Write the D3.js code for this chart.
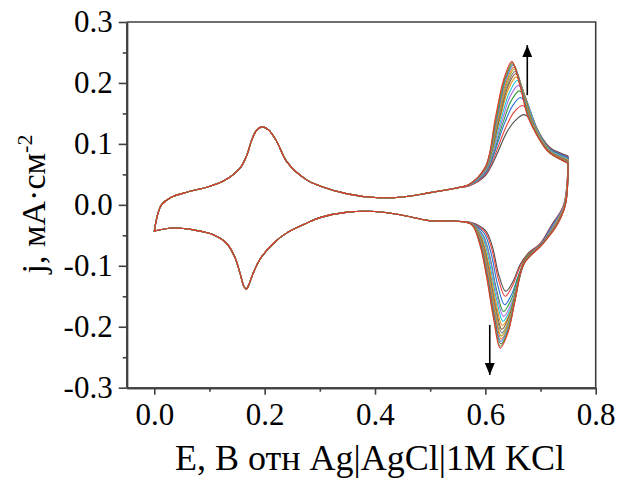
<!DOCTYPE html>
<html>
<head>
<meta charset="utf-8">
<script src="https://cdn.jsdelivr.net/npm/d3@7"></script>
<style>
  html, body { margin: 0; padding: 0; background: #fff; }
  svg text { font-family: "Liberation Serif", "Times New Roman", Times, "DejaVu Serif", serif; fill: #000; }
</style>
</head>
<body>
<svg id="chart" width="617" height="482"></svg>
<script>
// ticks
const xTicks = [0, 0.2, 0.4, 0.6, 0.8]
const xMinorTicks = [0.1, 0.3, 0.5, 0.7]
const yTicks = [-0.3, -0.2, -0.1, 0, 0.1, 0.2, 0.3]
const yMinorTicks = [-0.25, -0.15, -0.05, 0.05, 0.15, 0.25]

// colour of each cycle, first -> last
const cycleColors = ['#505050', '#e8403a', '#2a6fd6', '#2e9e3e', '#a66ee0', '#18c4d4', '#e8941a', '#8b5a2b',
    '#808080', '#a0a820', '#f07828', '#3c8ee6', '#6b6b6b', '#5aa832', '#e53530']

// part of the anodic sweep that all cycles share: [E, j]
const sharedAnodic = [[0.000, -0.044], [0.003, -0.028], [0.007, -0.013], [0.013, 0.000], [0.030, 0.012],
    [0.060, 0.021], [0.095, 0.029], [0.125, 0.039], [0.155, 0.060], [0.168, 0.082], [0.176, 0.105],
    [0.186, 0.123], [0.196, 0.128], [0.207, 0.123], [0.222, 0.104], [0.240, 0.071], [0.276, 0.041],
    [0.300, 0.031], [0.350, 0.018], [0.400, 0.012], [0.450, 0.013], [0.500, 0.020], [0.550, 0.028]]

// part of the cathodic sweep that all cycles share
const sharedCathodic = [[0.550, -0.027], [0.500, -0.026], [0.450, -0.017], [0.400, -0.011], [0.350, -0.012],
    [0.300, -0.021], [0.276, -0.030], [0.240, -0.046], [0.216, -0.063], [0.191, -0.090], [0.178, -0.115],
    [0.171, -0.132], [0.167, -0.138], [0.162, -0.133], [0.156, -0.114], [0.146, -0.086], [0.131, -0.063],
    [0.107, -0.049], [0.071, -0.041], [0.034, -0.038], [0.000, -0.043]]

// anodic peak region of each cycle
const anodicPeaks = [
    [[.57, .031], [.60, .048], [.640, .121], [.655, .139], [.670, .148], [.685, .137], [.700, .114], [.71, .101], [.72, .092], [.75, .080]],
    [[.57, .031], [.60, .050], [.637, .127], [.652, .152], [.667, .163], [.682, .148], [.697, .119], [.71, .100], [.72, .091], [.75, .079]],
    [[.57, .032], [.60, .052], [.634, .132], [.649, .162], [.664, .176], [.679, .157], [.694, .124], [.71, .099], [.72, .090], [.75, .078]],
    [[.57, .032], [.60, .054], [.632, .135], [.647, .171], [.662, .187], [.677, .165], [.692, .128], [.71, .098], [.72, .089], [.75, .076]],
    [[.57, .032], [.60, .055], [.630, .137], [.645, .178], [.660, .196], [.675, .171], [.690, .131], [.71, .097], [.72, .088], [.75, .075]],
    [[.57, .032], [.60, .057], [.628, .139], [.643, .183], [.658, .204], [.673, .176], [.688, .133], [.71, .096], [.72, .087], [.75, .074]],
    [[.57, .033], [.60, .058], [.626, .140], [.641, .188], [.656, .210], [.671, .180], [.686, .135], [.71, .095], [.72, .086], [.75, .073]],
    [[.57, .033], [.60, .059], [.625, .140], [.640, .192], [.655, .215], [.670, .183], [.685, .137], [.71, .094], [.72, .085], [.75, .072]],
    [[.57, .033], [.60, .060], [.624, .140], [.639, .194], [.654, .219], [.669, .185], [.684, .138], [.71, .094], [.72, .085], [.75, .071]],
    [[.57, .033], [.60, .060], [.623, .141], [.638, .197], [.653, .223], [.668, .187], [.683, .139], [.71, .093], [.72, .084], [.75, .070]],
    [[.57, .033], [.60, .061], [.622, .141], [.637, .199], [.652, .226], [.667, .189], [.682, .140], [.71, .093], [.72, .084], [.75, .070]],
    [[.57, .033], [.60, .061], [.621, .141], [.636, .202], [.651, .229], [.666, .191], [.681, .140], [.71, .092], [.72, .083], [.75, .069]],
    [[.57, .033], [.60, .062], [.620, .142], [.635, .203], [.650, .231], [.665, .192], [.680, .141], [.71, .092], [.72, .083], [.75, .069]],
    [[.57, .033], [.60, .062], [.619, .141], [.634, .204], [.649, .233], [.664, .193], [.679, .142], [.71, .091], [.72, .083], [.75, .068]],
    [[.57, .033], [.60, .062], [.618, .142], [.633, .205], [.648, .235], [.663, .195], [.678, .142], [.71, .091], [.72, .083], [.75, .068]]
]

// cathodic peak region of each cycle
const cathodicPeaks = [
    [[.75, .080], [.742, 0], [.720, -.033], [.699, -.064], [.679, -.078], [.663, -.098], [.651, -.124], [.637, -.142], [.625, -.117], [.612, -.066], [.600, -.042], [.575, -.029]],
    [[.75, .079], [.742, 0], [.721, -.033], [.699, -.064], [.678, -.080], [.662, -.103], [.650, -.131], [.636, -.150], [.624, -.123], [.611, -.070], [.599, -.044], [.575, -.030]],
    [[.75, .078], [.743, 0], [.722, -.033], [.700, -.064], [.677, -.083], [.661, -.113], [.649, -.144], [.635, -.164], [.623, -.134], [.610, -.078], [.598, -.047], [.575, -.030]],
    [[.75, .076], [.743, 0], [.724, -.033], [.701, -.064], [.675, -.085], [.659, -.120], [.647, -.155], [.633, -.175], [.621, -.142], [.608, -.084], [.596, -.050], [.575, -.030]],
    [[.75, .075], [.743, 0], [.724, -.033], [.701, -.064], [.675, -.087], [.659, -.126], [.647, -.162], [.633, -.183], [.621, -.148], [.608, -.088], [.596, -.052], [.575, -.030]],
    [[.75, .074], [.744, 0], [.725, -.033], [.702, -.064], [.674, -.089], [.658, -.131], [.646, -.169], [.632, -.191], [.620, -.154], [.607, -.093], [.595, -.054], [.575, -.031]],
    [[.75, .073], [.744, 0], [.726, -.033], [.702, -.064], [.673, -.090], [.657, -.136], [.645, -.176], [.631, -.198], [.619, -.159], [.606, -.097], [.594, -.056], [.575, -.031]],
    [[.75, .072], [.744, 0], [.727, -.033], [.702, -.064], [.672, -.091], [.656, -.140], [.644, -.181], [.630, -.204], [.618, -.164], [.605, -.100], [.593, -.057], [.575, -.031]],
    [[.75, .071], [.744, 0], [.727, -.033], [.703, -.064], [.672, -.093], [.656, -.144], [.644, -.187], [.630, -.210], [.618, -.168], [.605, -.103], [.593, -.059], [.575, -.031]],
    [[.75, .070], [.744, 0], [.728, -.033], [.703, -.064], [.671, -.094], [.655, -.147], [.643, -.192], [.629, -.215], [.617, -.172], [.604, -.106], [.592, -.060], [.575, -.031]],
    [[.75, .070], [.745, 0], [.728, -.033], [.703, -.064], [.671, -.095], [.655, -.151], [.643, -.196], [.629, -.220], [.617, -.176], [.604, -.109], [.592, -.061], [.575, -.032]],
    [[.75, .069], [.745, 0], [.729, -.033], [.703, -.064], [.670, -.096], [.654, -.154], [.642, -.200], [.628, -.224], [.616, -.179], [.603, -.111], [.591, -.062], [.575, -.032]],
    [[.75, .069], [.745, 0], [.729, -.033], [.704, -.064], [.670, -.097], [.654, -.156], [.642, -.204], [.628, -.228], [.616, -.182], [.603, -.113], [.591, -.063], [.575, -.032]],
    [[.75, .068], [.745, 0], [.730, -.033], [.704, -.064], [.669, -.097], [.653, -.159], [.641, -.207], [.627, -.232], [.615, -.185], [.602, -.115], [.590, -.064], [.575, -.032]],
    [[.75, .068], [.745, 0], [.730, -.033], [.704, -.064], [.669, -.098], [.653, -.161], [.641, -.210], [.627, -.235], [.615, -.187], [.602, -.117], [.590, -.065], [.575, -.032]]
]

// arrows showing growth direction: [E, jFrom, jTo]
const arrows = [[0.676, 0.180, 0.262], [0.608, -0.197, -0.279]]

const xTitle = 'E, B отн Ag|AgCl|1M KCl'
const yTitle = 'j, мА·см'
const yTitleSup = '-2'

const serif = '"Liberation Serif", "Times New Roman", Times, "DejaVu Serif", serif'


var CvDraw = {
    svg: null,
    x: null,
    y: null,
    axisColor: '#404040',

    init(selector) {
        this.svg = d3.select(selector)
        this.x = d3.scaleLinear().domain([-0.05, 0.8]).range([126.7, 595.7])
        this.y = d3.scaleLinear().domain([-0.3, 0.3]).range([387.7, 22])
        return this
    },
    styleAxis(g) {
        g.attr('font-family', serif)
        g.select('.domain').attr('stroke', this.axisColor).attr('stroke-width', 2)
        g.selectAll('.tick line').attr('stroke', this.axisColor).attr('stroke-width', 1.6)
        g.selectAll('.tick text')
            .style('font-family', serif)
            .attr('font-size', 31)
            .attr('fill', '#000')
    },
    drawAxes() {
        const { x, y, svg } = this
        const x0 = x.range()[0], x1 = x.range()[1]
        const y0 = y.range()[0], y1 = y.range()[1]

        // frame top / right
        svg.append('path')
            .attr('d', `M ${x0} ${y1} L ${x1} ${y1} L ${x1} ${y0}`)
            .attr('fill', 'none')
            .attr('stroke', this.axisColor)
            .attr('stroke-width', 1.6)

        svg.append('g')
            .attr('transform', `translate(0,${y0})`)
            .call(d3.axisBottom(x).tickValues(xMinorTicks).tickSize(4).tickSizeOuter(0).tickFormat(''))
            .call(g => this.styleAxis(g))
        svg.append('g')
            .attr('transform', `translate(0,${y0})`)
            .call(d3.axisBottom(x).tickValues(xTicks).tickSize(7).tickSizeOuter(0).tickPadding(8)
                .tickFormat(d => d.toFixed(1)))
            .call(g => this.styleAxis(g))

        svg.append('g')
            .attr('transform', `translate(${x0},0)`)
            .call(d3.axisLeft(y).tickValues(yMinorTicks).tickSize(4).tickSizeOuter(0).tickFormat(''))
            .call(g => this.styleAxis(g))
        svg.append('g')
            .attr('transform', `translate(${x0},0)`)
            .call(d3.axisLeft(y).tickValues(yTicks).tickSize(8).tickSizeOuter(0).tickPadding(6)
                .tickFormat(d => d.toFixed(1)))
            .call(g => this.styleAxis(g))

        svg.append('text')
            .attr('x', 370)
            .attr('y', 470)
            .attr('text-anchor', 'middle')
            .attr('font-size', 36)
            .style('font-family', serif)
            .text(xTitle)

        const yt = svg.append('text')
            .attr('transform', 'translate(45,204) rotate(-90)')
            .attr('text-anchor', 'middle')
            .attr('font-size', 34)
            .style('font-family', serif)
        yt.append('tspan').text(yTitle)
        yt.append('tspan').attr('font-size', 22).attr('dy', -13).text(yTitleSup)
    },
    drawCycles() {
        const { x, y, svg } = this
        const line = d3.line()
            .x(d => x(d[0]))
            .y(d => y(d[1]))
            .curve(d3.curveCatmullRom.alpha(0.5))

        const cycles = cycleColors.map((c, i) => ({
            color: c,
            anodic: sharedAnodic.concat(anodicPeaks[i]),
            cathodic: cathodicPeaks[i].concat(sharedCathodic)
        }))

        const g = svg.append('g').attr('fill', 'none').attr('stroke-width', 1.1)
        const cg = g.selectAll('g.cycle').data(cycles).enter().append('g').attr('class', 'cycle')
        cg.append('path').attr('d', d => line(d.anodic)).attr('stroke', d => d.color)
        cg.append('path').attr('d', d => line(d.cathodic)).attr('stroke', d => d.color)
    },
    drawArrows() {
        const { x, y, svg } = this
        svg.append('defs').append('marker')
            .attr('id', 'head')
            .attr('viewBox', '0 0 12 10')
            .attr('refX', 12).attr('refY', 5)
            .attr('markerWidth', 12).attr('markerHeight', 10)
            .attr('markerUnits', 'userSpaceOnUse')
            .attr('orient', 'auto')
            .append('path').attr('d', 'M0,0 L12,5 L0,10 Z').attr('fill', '#000')

        svg.selectAll('line.arrow').data(arrows).enter().append('line')
            .attr('class', 'arrow')
            .attr('x1', d => x(d[0])).attr('y1', d => y(d[1]))
            .attr('x2', d => x(d[0])).attr('y2', d => y(d[2]))
            .attr('stroke', '#000').attr('stroke-width', 1.6)
            .attr('marker-end', 'url(#head)')
    },
    draw() {
        this.drawCycles()
        this.drawAxes()
        this.drawArrows()
    }
}

CvDraw.init('#chart').draw()
</script>
</body>
</html>
